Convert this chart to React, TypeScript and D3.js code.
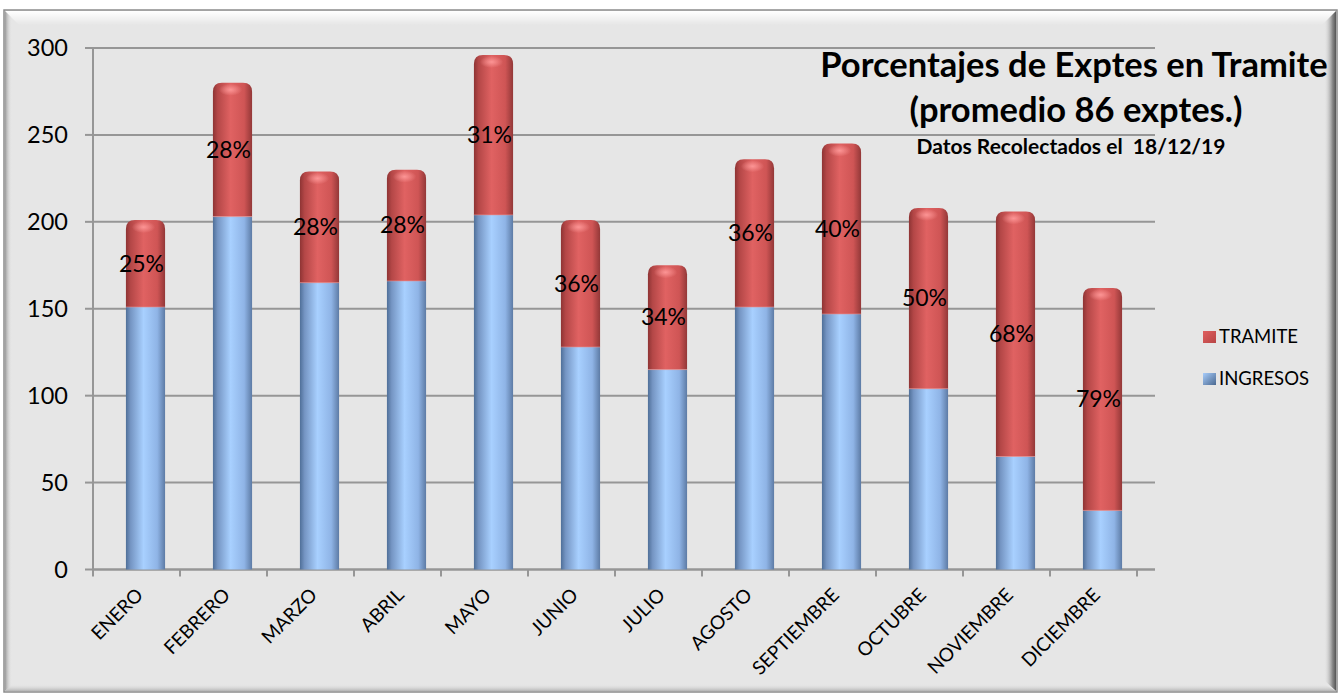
import React from "react";
import * as d3 from "d3";

const months = ["ENERO","FEBRERO","MARZO","ABRIL","MAYO","JUNIO","JULIO","AGOSTO","SEPTIEMBRE","OCTUBRE","NOVIEMBRE","DICIEMBRE"];
const ingresos = [151, 203, 165, 166, 204, 128, 115, 151, 147, 104, 65, 34];
const totals = [201, 280, 229, 230, 296, 201, 175, 236, 245, 208, 206, 162];
const pctLabels = ["25%","28%","28%","28%","31%","36%","34%","36%","40%","50%","68%","79%"];
const yTicks = [0, 50, 100, 150, 200, 250, 300];
const titleLines = ["Porcentajes de Exptes en Tramite", "(promedio 86 exptes.)"];
const subtitle = "Datos Recolectados el  18/12/19";
const legendItems = [{ name: "TRAMITE", kind: "red" }, { name: "INGRESOS", kind: "blue" }];

const W = 1343, H = 696;
const plotLeft = 93, plotRight = 1137, gridRight = 1155;
const plotTop = 48, plotBottom = 569.5;
const font = "Lato, 'Open Sans', sans-serif";

export default function App() {
  const x = d3.scaleBand<string>().domain(months).range([plotLeft, plotRight]).padding(0);
  const y = d3.scaleLinear().domain([0, 300]).range([plotBottom, plotTop]);
  const bw = x.bandwidth() * 0.45;
  const shift = 9;
  const capR = 9;

  const topPath = (x0: number, y0: number, y1: number) => {
    const w = bw;
    const r = Math.min(capR, (y1 - y0) / 2);
    return `M${x0},${y1} L${x0},${y0 + r} Q${x0},${y0} ${x0 + r},${y0} L${x0 + w - r},${y0} Q${x0 + w},${y0} ${x0 + w},${y0 + r} L${x0 + w},${y1} Z`;
  };

  return (
    <svg width={W} height={H} style={{ position: "absolute", left: 0, top: 0 }} fontFamily={font}>
      <defs>
        <linearGradient id="blueG" x1="0" x2="1" y1="0" y2="0">
          <stop offset="0" stopColor="#4f6f98" />
          <stop offset="0.12" stopColor="#7595c3" />
          <stop offset="0.45" stopColor="#a8d0ff" />
          <stop offset="0.8" stopColor="#8fb4e6" />
          <stop offset="1" stopColor="#5d7ba5" />
        </linearGradient>
        <linearGradient id="redG" x1="0" x2="1" y1="0" y2="0">
          <stop offset="0" stopColor="#8e3434" />
          <stop offset="0.12" stopColor="#b44747" />
          <stop offset="0.45" stopColor="#e06262" />
          <stop offset="0.8" stopColor="#cf5555" />
          <stop offset="1" stopColor="#933838" />
        </linearGradient>
        <radialGradient id="capHi" cx="0.5" cy="0.5" r="0.5">
          <stop offset="0" stopColor="#ff9a9a" stopOpacity="0.9" />
          <stop offset="1" stopColor="#ff9a9a" stopOpacity="0" />
        </radialGradient>
        <linearGradient id="topBevel" x1="0" x2="0" y1="0" y2="1">
          <stop offset="0" stopColor="#ffffff" stopOpacity="1" />
          <stop offset="1" stopColor="#ffffff" stopOpacity="0" />
        </linearGradient>
        <linearGradient id="leftBevel" x1="0" x2="1" y1="0" y2="0">
          <stop offset="0" stopColor="#9a9a9a" />
          <stop offset="1" stopColor="#e6e6e6" stopOpacity="0" />
        </linearGradient>
        <linearGradient id="rightBevel" x1="1" x2="0" y1="0" y2="0">
          <stop offset="0" stopColor="#555555" />
          <stop offset="0.3" stopColor="#8a8a8a" />
          <stop offset="1" stopColor="#e6e6e6" stopOpacity="0" />
        </linearGradient>
        <linearGradient id="bottomBevel" x1="0" x2="0" y1="1" y2="0">
          <stop offset="0" stopColor="#b5b5b5" />
          <stop offset="1" stopColor="#e6e6e6" stopOpacity="0" />
        </linearGradient>
        <linearGradient id="legRed" x1="0" x2="1" y1="0" y2="1">
          <stop offset="0" stopColor="#e06060" />
          <stop offset="1" stopColor="#b84545" />
        </linearGradient>
        <linearGradient id="legBlue" x1="0" x2="1" y1="0" y2="1">
          <stop offset="0" stopColor="#a8cdfb" />
          <stop offset="1" stopColor="#4a6890" />
        </linearGradient>
      </defs>

      <rect x={0} y={0} width={W} height={H} fill="#ffffff" />
      <rect x={4} y={10} width={1333} height={682} fill="#e6e6e6" stroke="#8c8c8c" strokeWidth={1.5} />
      <polygon points="5,11 1336,11 1322,25 19,25" fill="url(#topBevel)" />
      <polygon points="5,11 12,18 12,685 5,691" fill="url(#leftBevel)" />
      <polygon points="1336,11 1324,23 1324,680 1336,691" fill="url(#rightBevel)" />
      <polygon points="5,691 12,684 1324,684 1336,691" fill="url(#bottomBevel)" />

      {yTicks.map(t => (
        <g key={t}>
          {t > 0 && <line x1={plotLeft} x2={gridRight} y1={y(t)} y2={y(t)} stroke="#969696" strokeWidth={2} />}
          <line x1={85} x2={plotLeft} y1={y(t)} y2={y(t)} stroke="#969696" strokeWidth={2} />
          <text x={68} y={y(t)} dy="0.36em" textAnchor="end" fontSize={23.5} fill="#000">{t}</text>
        </g>
      ))}
      <line x1={plotLeft} x2={plotLeft} y1={plotTop} y2={plotBottom + 3} stroke="#969696" strokeWidth={2} />
      <line x1={plotLeft} x2={gridRight} y1={plotBottom} y2={plotBottom} stroke="#969696" strokeWidth={2.5} />
      {d3.range(months.length + 1).map(i => (
        <line key={i} x1={plotLeft + i * x.bandwidth()} x2={plotLeft + i * x.bandwidth()} y1={plotBottom} y2={plotBottom + 7} stroke="#969696" strokeWidth={2} />
      ))}

      {months.map((m, i) => {
        const x0 = (x(m) as number) + (x.bandwidth() - bw) / 2 + shift;
        const yIng = y(ingresos[i]);
        const yTot = y(totals[i]);
        return (
          <g key={m}>
            <rect x={x0} y={yIng} width={bw} height={plotBottom - yIng} fill="url(#blueG)" />
            <path d={topPath(x0, yTot, yIng)} fill="url(#redG)" />
            <ellipse cx={x0 + bw * 0.45} cy={yTot + 7} rx={bw * 0.3} ry={6} fill="url(#capHi)" />
            <line x1={x0} x2={x0 + bw} y1={yIng} y2={yIng} stroke="#e89090" strokeWidth={1} opacity={0.6} />
            <text x={x0 + bw / 2 - 4} y={(yTot + yIng) / 2} dy="0.35em" textAnchor="middle" fontSize={23} fill="#000">{pctLabels[i]}</text>
          </g>
        );
      })}

      {months.map(m => {
        const cx = (x(m) as number) + x.bandwidth() / 2 + 3;
        const cy = plotBottom + 22;
        return (
          <text key={m} transform={`translate(${cx},${cy}) rotate(-45)`} textAnchor="end" dy="0.35em" fontSize={19} fill="#000">{m}</text>
        );
      })}

      <text x={1074} y={77} textAnchor="middle" fontSize={34.5} fontWeight="bold" fill="#000">{titleLines[0]}</text>
      <text x={1076} y={122} textAnchor="middle" fontSize={34.5} fontWeight="bold" fill="#000">{titleLines[1]}</text>
      <text x={1071} y={154} textAnchor="middle" fontSize={21} fontWeight="bold" fill="#000" style={{ whiteSpace: "pre" }}>{subtitle}</text>

      {legendItems.map((it, i) => {
        const ly = 337 + i * 42;
        return (
          <g key={it.name}>
            <rect x={1203} y={ly - 6} width={13} height={12} fill={it.kind === "red" ? "url(#legRed)" : "url(#legBlue)"} />
            <text x={1219} y={ly} dy="0.35em" fontSize={18.5} fill="#000">{it.name}</text>
          </g>
        );
      })}
    </svg>
  );
}
